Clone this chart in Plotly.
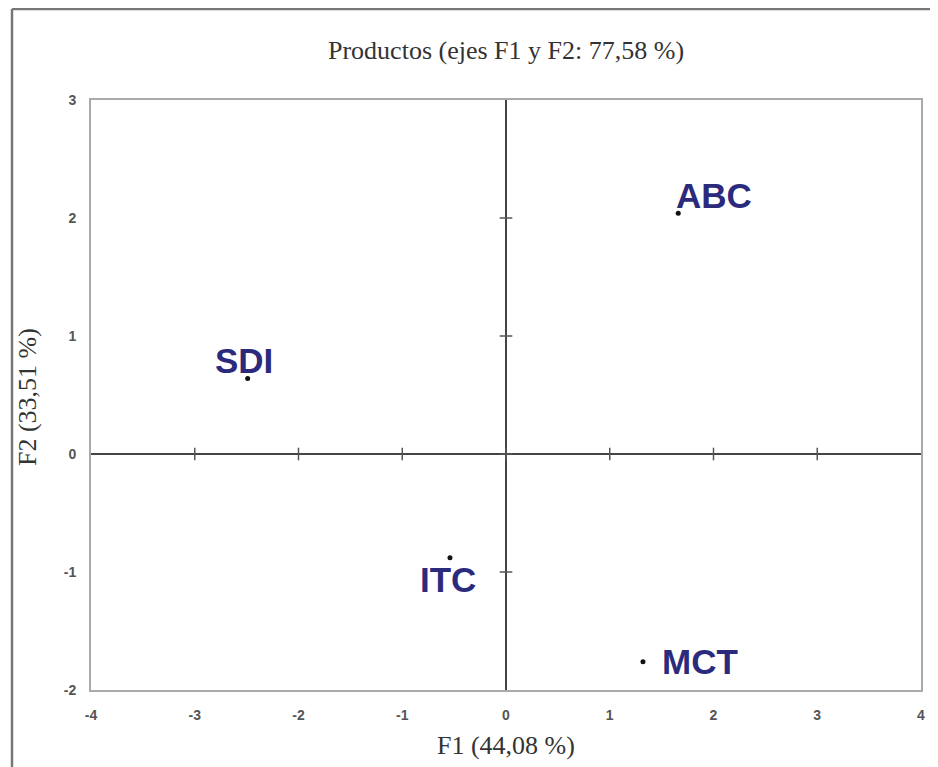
import plotly.graph_objects as go

# Data
products = ["ABC", "SDI", "ITC", "MCT"]
f1 = [1.66, -2.49, -0.54, 1.32]
f2 = [2.04, 0.64, -0.88, -1.76]
x_ticks = [-4, -3, -2, -1, 0, 1, 2, 3, 4]
y_ticks = [-2, -1, 0, 1, 2, 3]
title_text = "Productos (ejes F1 y F2: 77,58 %)"
x_title = "F1 (44,08 %)"
y_title = "F2 (33,51 %)"

# label offsets in pixels (style)
label_shift = {"ABC": (36, 18), "SDI": (-4, 18), "ITC": (-2, -22), "MCT": (57, 0)}

# page offset due to body margin (8 px)
OFF = 8
W, H = 938 - OFF, 767 - OFF
ML, MR, MT, MB = 91 - OFF, 17, 100 - OFF, 77
pw, ph = W - ML - MR, H - MT - MB


def px_x(page_x):
    return (page_x - OFF - ML) / pw


def px_y(page_y):
    return (H - MB - (page_y - OFF)) / ph


fig = go.Figure()

# tick crosses on zero lines
fig.add_trace(go.Scatter(
    x=[t for t in x_ticks if t not in (-4, 4)], y=[0] * (len(x_ticks) - 2),
    mode="markers", marker=dict(symbol="line-ns", size=9, line=dict(color="#555", width=1.5)),
    hoverinfo="skip", showlegend=False))
fig.add_trace(go.Scatter(
    x=[0] * (len(y_ticks) - 2), y=[t for t in y_ticks if t not in (-2, 3)],
    mode="markers", marker=dict(symbol="line-ew", size=9, line=dict(color="#555", width=1.5)),
    hoverinfo="skip", showlegend=False))

# points
fig.add_trace(go.Scatter(
    x=f1, y=f2, mode="markers",
    marker=dict(color="#111111", size=5),
    showlegend=False))

for name, xv, yv in zip(products, f1, f2):
    dx, dy = label_shift[name]
    fig.add_annotation(
        x=xv, y=yv, xref="x", yref="y", text=name, showarrow=False,
        xshift=dx, yshift=dy, xanchor="center", yanchor="middle",
        font=dict(family="Liberation Sans, Arial", size=35, color="#2b2a7c", weight="bold"))

serif = "Liberation Serif, Times New Roman"
# titles
fig.add_annotation(text=title_text, xref="paper", yref="paper",
                   x=px_x(506), y=px_y(50), showarrow=False,
                   xanchor="center", yanchor="middle",
                   font=dict(family=serif, size=26, color="#333"))
fig.add_annotation(text=x_title, xref="paper", yref="paper",
                   x=px_x(506), y=px_y(745), showarrow=False,
                   xanchor="center", yanchor="middle",
                   font=dict(family=serif, size=26, color="#333"))
fig.add_annotation(text=y_title, xref="paper", yref="paper",
                   x=px_x(28), y=px_y(397), showarrow=False, textangle=-90,
                   xanchor="center", yanchor="middle",
                   font=dict(family=serif, size=26, color="#333"))

# outer border (top and left)
x_left = px_x(12)
y_top = px_y(9)
fig.add_shape(type="line", xref="paper", yref="paper", x0=x_left, x1=px_x(945),
              y0=y_top, y1=y_top, line=dict(color="#777", width=2.5))
fig.add_shape(type="line", xref="paper", yref="paper", x0=x_left, x1=x_left,
              y0=y_top, y1=px_y(775), line=dict(color="#777", width=2.5))

axis_font = dict(family="Liberation Sans, Arial", size=14, color="#555", weight="bold")
fig.update_xaxes(range=[-4, 4], tickvals=x_ticks, ticktext=[str(t) for t in x_ticks],
                 showgrid=False, zeroline=True, zerolinecolor="#444", zerolinewidth=2,
                 showline=True, mirror=True, linecolor="#aaa", linewidth=2,
                 ticks="", tickfont=axis_font, ticklabelstandoff=11)
fig.update_yaxes(range=[-2, 3], tickvals=y_ticks, ticktext=[str(t) for t in y_ticks],
                 showgrid=False, zeroline=True, zerolinecolor="#444", zerolinewidth=2,
                 showline=True, mirror=True, linecolor="#aaa", linewidth=2,
                 ticks="", tickfont=axis_font, ticklabelstandoff=10)

fig.update_layout(width=W, height=H, margin=dict(l=ML, r=MR, t=MT, b=MB),
                  plot_bgcolor="white", paper_bgcolor="white", showlegend=False)

fig.write_html("out.html")
